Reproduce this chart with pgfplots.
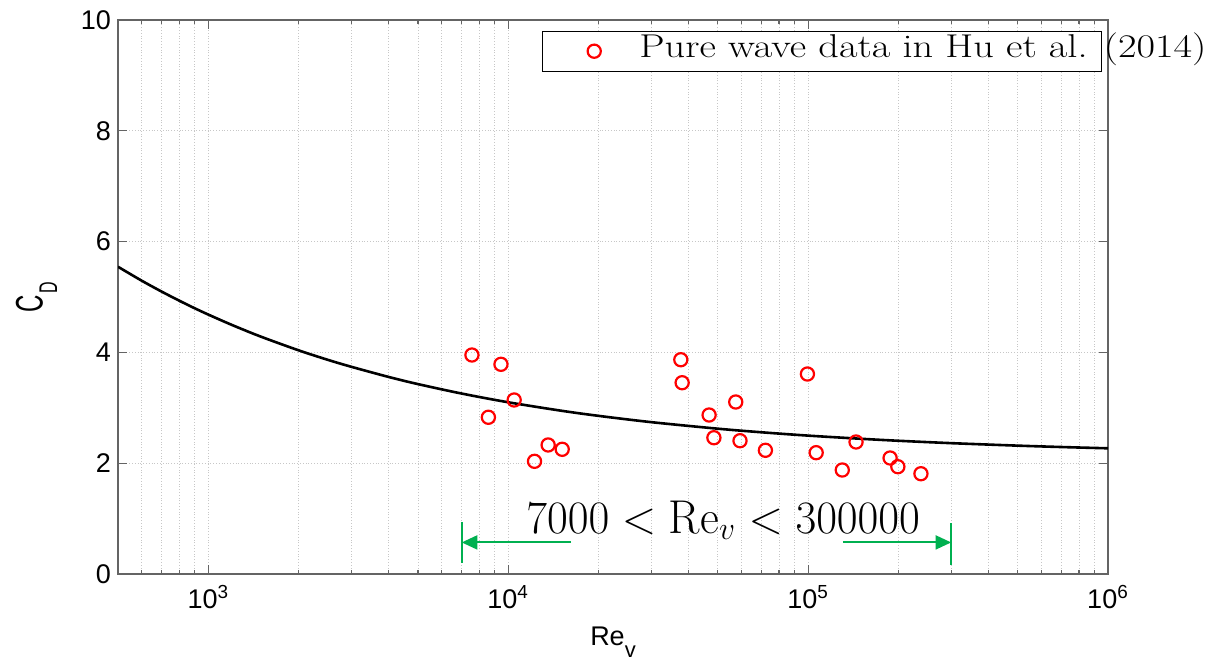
\documentclass[border=0pt]{standalone}
\usepackage{pgfplots}
\pgfplotsset{compat=1.18}
\usepackage{fontspec}
\newfontfamily\arialfont{Liberation Sans}
\usetikzlibrary{arrows.meta}
\definecolor{mygreen}{RGB}{0,176,80}
\definecolor{axgray}{RGB}{100,100,100}
\newcommand\sfsize{\arialfont\fontsize{13.5}{16}\selectfont}
\begin{document}
\begin{tikzpicture}
\begin{axis}[
  at={(0,0)}, anchor=south west,
  scale only axis, width=495pt, height=277pt,
  xmode=log, log basis x=10,
  xmin=500, xmax=1e6, ymin=0, ymax=10,
  xtick={1e3,1e4,1e5,1e6},
  minor xtick={600,700,800,900,2000,3000,4000,5000,6000,7000,8000,9000,20000,30000,40000,50000,60000,70000,80000,90000,200000,300000,400000,500000,600000,700000,800000,900000},
  xticklabels={10\textsuperscript{3},10\textsuperscript{4},10\textsuperscript{5},10\textsuperscript{6}},
  ytick={0,2,4,6,8,10},
  yticklabels={0,2,4,6,8,10},
  tick label style={font=\sfsize},
  xticklabel style={yshift=-2pt},
  tick align=inside,
  major tick length=4.5pt, minor tick length=2.2pt,
  every tick/.style={axgray, line width=0.6pt},
  axis line style={axgray, line width=0.7pt},
  xmajorgrids=true, xminorgrids=true, ymajorgrids=true,
  major grid style={densely dotted, black!22, line width=0.4pt},
  minor grid style={densely dotted, black!22, line width=0.4pt},
  xlabel={Re\raisebox{-6pt}{\arialfont\fontsize{11}{12}\selectfont v}},
  xlabel style={font=\sfsize, at={(axis description cs:0.5,0)}, anchor=base, yshift=-35.5pt},
  ylabel={\scalebox{1}[1.6]{\arialfont\fontsize{12}{14}\selectfont C\kern1pt\raisebox{-4.5pt}{\fontsize{8}{9}\selectfont D}}},
  ylabel style={at={(axis description cs:0,0.5)}, anchor=base, yshift=37.7pt},
  legend style={at={(0.4283,0.9807)}, anchor=north west, draw=black, line width=0.5pt,
    inner xsep=0pt, inner ysep=0pt, column sep=0pt,
    nodes={inner sep=0pt, text height=13pt, text depth=7pt},
    cells={anchor=west}},
  legend image code/.code={\path (0pt,0pt) (47.3pt,0pt);
    \draw[#1] plot coordinates {(25.3pt,0pt)};},
]
\addplot[black, line width=1.3pt, smooth, forget plot] coordinates {
 (500,5.546) (600,5.294) (700,5.096) (800,4.934) (900,4.798) (1000,4.683)
 (1200,4.495) (1500,4.283) (2000,4.038) (2500,3.867) (3000,3.740) (4000,3.556)
 (5000,3.428) (7000,3.257) (10000,3.100) (15000,2.948) (20000,2.855)
 (30000,2.741) (50000,2.623) (70000,2.558) (100000,2.498) (150000,2.441)
 (200000,2.405) (300000,2.362) (500000,2.317) (700000,2.292) (1000000,2.269)
};
\addplot[only marks, mark=o, red, mark size=3.3pt, line width=1.1pt] coordinates {
 (7570,3.953) (8590,2.829) (9460,3.785) (10470,3.141) (12240,2.034)
 (13590,2.329) (15140,2.251) (37640,3.868) (38020,3.453) (46770,2.870)
 (48520,2.460) (57380,3.105) (59290,2.406) (72060,2.233) (99480,3.610)
 (106400,2.190) (130000,1.877) (144500,2.383) (187700,2.094) (199200,1.937)
 (237800,1.810)
};
\addlegendentry{\makebox[231pt][l]{\scalebox{1.222}[1]{\fontsize{16.5}{19}\selectfont Pure wave data in Hu et al. (2014)}}}
\addplot[mygreen, line width=1pt, -{Triangle[length=7.8pt,width=7pt]}, forget plot] coordinates {(16220,0.57) (7000,0.57)};
\addplot[mygreen, line width=1pt, forget plot] coordinates {(7000,0.20) (7000,0.94)};
\addplot[mygreen, line width=1pt, -{Triangle[length=7.8pt,width=7pt]}, forget plot] coordinates {(130500,0.57) (300000,0.57)};
\addplot[mygreen, line width=1pt, forget plot] coordinates {(300000,0.16) (300000,0.92)};
\node[anchor=base, inner sep=0pt] at (axis cs:52100,0.74) {\scalebox{1.089}[1.12]{\fontsize{21.2}{25}\selectfont $7000 < \mathrm{Re}_v < 300000$}};
\end{axis}
\pgfresetboundingbox
\useasboundingbox (-59pt,-43.5pt) rectangle (544.5pt,287pt);
\end{tikzpicture}
\end{document}
